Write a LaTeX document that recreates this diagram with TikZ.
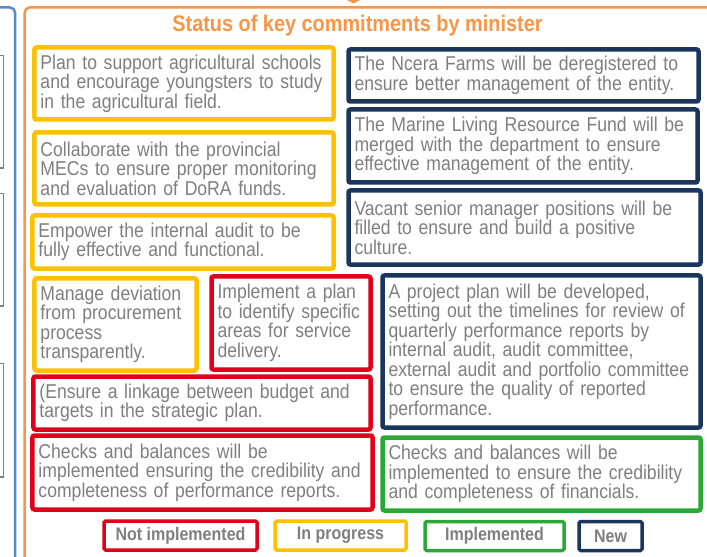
\documentclass[tikz,border=0pt]{standalone}
\usepackage{fontspec}
\setmainfont{Liberation Sans}[FakeStretch=0.88]
\definecolor{cyellow}{HTML}{FFC000}
\definecolor{cred}{HTML}{E0001B}
\definecolor{cnavy}{HTML}{1B365D}
\definecolor{cgreen}{HTML}{2DA838}
\definecolor{corange}{HTML}{F79646}
\definecolor{cblue}{HTML}{5A8ACB}
\definecolor{ctext}{HTML}{7F7F7F}
\newcommand{\boxfont}{\fontsize{20bp}{19.5bp}\selectfont\hyphenpenalty=10000\exhyphenpenalty=10000}
\newcommand{\legfont}{\fontsize{18.2bp}{18bp}\selectfont\bfseries}

\begin{document}
\begin{tikzpicture}[x=1bp, y=-1bp,
  box/.style={draw, line width=4.5bp, rounded corners=2bp, fill=white, inner xsep=6bp, inner ysep=0pt, align=left, text=ctext, font=\boxfont},
  inprog/.style={box, draw=cyellow},
  notimpl/.style={box, draw=cred},
  impl/.style={box, draw=cgreen},
  newc/.style={box, draw=cnavy},
  legend/.style={draw, line width=3.5bp, rounded corners=1.5bp, minimum height=29bp, inner sep=0pt, text=ctext, font=\legfont}
]
\useasboundingbox (0,0) rectangle (707,557);
\clip (0,0) rectangle (707,557);
\fill[white] (0,0) rectangle (707,557);
% frames cut off at the edges
\draw[cblue, line width=2.5bp, rounded corners=5bp] (-30,7.5) -- (15,7.5) -- (15,600);
\draw[ctext, line width=1.2bp] (-60,55.5) rectangle (3.5,168);
\draw[ctext, line width=1.2bp] (-60,193.5) rectangle (3.5,306);
\draw[ctext, line width=1.2bp] (-60,363.5) rectangle (3.5,477);
\draw[corange, line width=2.5bp, rounded corners=5bp] (24.7,600) -- (24.7,7.5) -- (740,7.5);
\fill[corange] (337.7,-5) -- (369.3,-5) -- (353.5,3.5) -- cycle;
\node[anchor=base, text=corange, font=\fontsize{22.6bp}{24bp}\selectfont\bfseries] (title) at (357.5,31.5) {Status of key commitments by minister};
% left column
\node[inprog, text width=287bp, minimum height=72bp] (agri) at (184,83.5) {Plan to support agricultural schools\\and encourage youngsters to study\\in the agricultural field.};
\node[inprog, text width=287bp, minimum height=72bp] (mecs) at (184,168.5) {Collaborate with the provincial\\MECs to ensure proper monitoring\\and evaluation of DoRA funds.};
\node[inprog, text width=289bp, minimum height=53bp] (audit) at (183,242) {Empower the internal audit to be\\fully effective and functional.};
\node[inprog, text width=150bp, minimum height=92bp] (procure) at (115.5,324.5) {Manage deviation\\from procurement\\process\\transparently.};
\node[notimpl, text width=147bp, minimum height=93bp] (service) at (291,323) {Implement a plan\\to identify specific\\areas for service\\delivery.};
\node[notimpl, text width=325bp, minimum height=53bp] (linkage) at (202,403) {(Ensure a linkage between budget and\\targets in the strategic plan.};
\node[notimpl, text width=328bp, minimum height=74bp] (checksp) at (202.5,472.5) {Checks and balances will be\\implemented ensuring the credibility and\\completeness of performance reports.};
% right column
\node[newc, text width=338bp, minimum height=52bp] (ncera) at (523.5,75.5) {The Ncera Farms will be deregistered to\\ensure better management of the entity.};
\node[newc, text width=337bp, minimum height=73bp] (marine) at (523,146) {The Marine Living Resource Fund will be\\merged with the department to ensure\\effective management of the entity.};
\node[newc, text width=340bp, minimum height=74bp] (vacant) at (524.5,227.5) {Vacant senior manager positions will be\\filled to ensure and build a positive\\culture.};
\node[newc, text width=306bp, minimum height=152bp] (project) at (541.5,351.5) {A project plan will be developed,\\setting out the timelines for review of\\quarterly performance reports by\\internal audit, audit committee,\\external audit and portfolio committee\\to ensure the quality of reported\\performance.};
\node[impl, text width=306bp, minimum height=73bp] (checksf) at (541.5,474) {Checks and balances will be\\implemented to ensure the credibility\\and completeness of financials.};
% legend
\node[legend, draw=cred, minimum width=153bp] (lnot) at (180.5,535.5) {Not implemented};
\node[legend, draw=cyellow, minimum width=131bp] (lprog) at (340.5,535.5) {In progress};
\node[legend, draw=cgreen, minimum width=139bp] (limpl) at (494.5,536) {Implemented};
\node[legend, draw=cnavy, minimum width=63bp] (lnew) at (610.5,536) {New};
\end{tikzpicture}
\end{document}
